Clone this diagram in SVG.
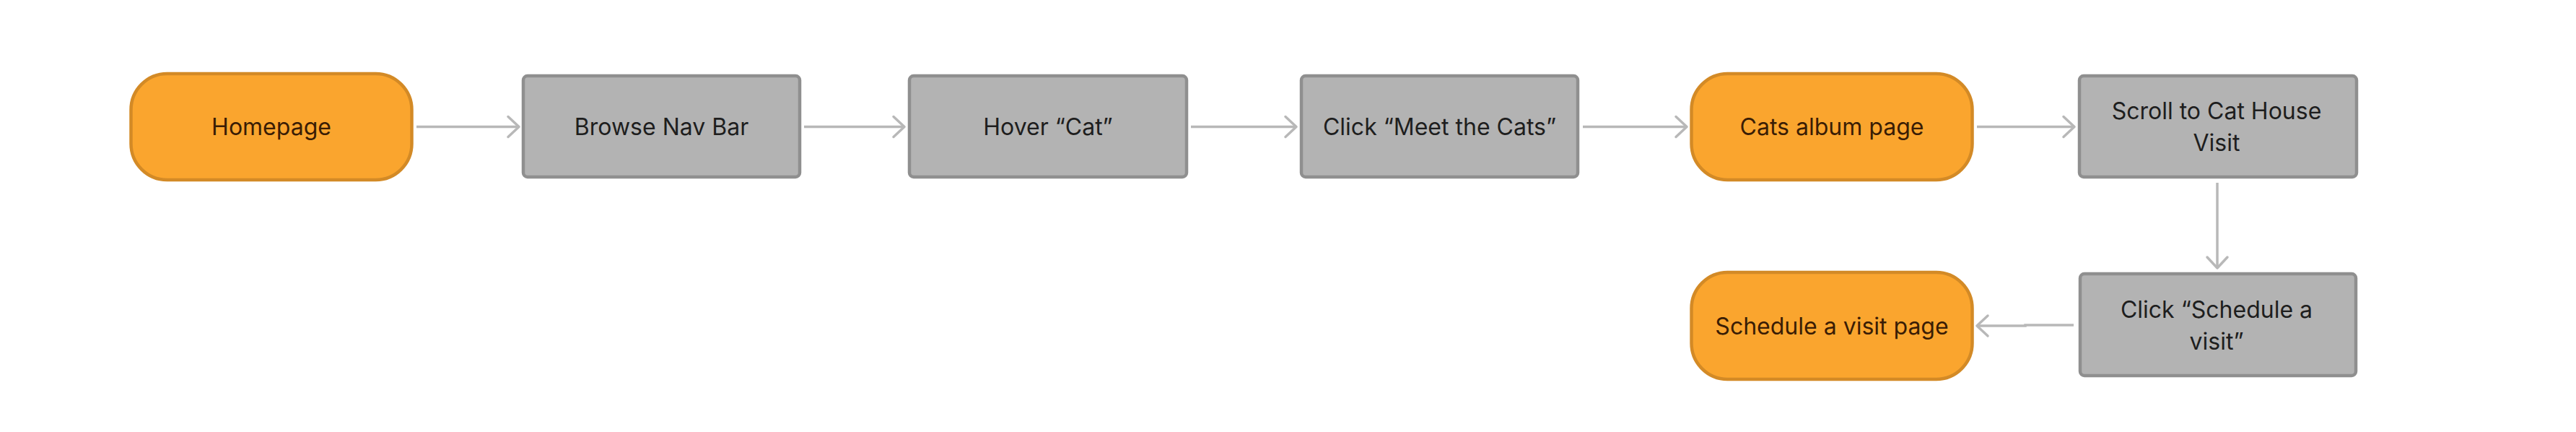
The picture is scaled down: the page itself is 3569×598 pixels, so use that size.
<svg xmlns="http://www.w3.org/2000/svg" width="3569" height="598" viewBox="0 0 3569 598">
<style>
  .page rect { fill: #FAA52E; stroke: #D38A26; stroke-width: 4.5; }
  .step rect { fill: #B3B3B3; stroke: #8F8F8F; stroke-width: 4.5; }
  text { font-family: Inter, "Liberation Sans", Arial, sans-serif; font-size: 32px; text-anchor: middle; dominant-baseline: central; }
  .page text { fill: #3A1D05; }
  .step text { fill: #1E1E1E; }
  .conn path { fill: none; stroke: #B8B8B8; stroke-width: 3.5; marker-end: url(#arr); }
</style>
<defs>
  <marker id="arr" markerUnits="userSpaceOnUse" markerWidth="40" markerHeight="40" viewBox="-20 -20 40 40" refX="0" refY="0" orient="auto">
    <path d="M-15,-14 L0,0 L-15,14" fill="none" stroke="#B8B8B8" stroke-width="3.5" stroke-linejoin="round" stroke-linecap="round"/>
  </marker>
</defs>
<rect width="3569" height="598" fill="#FFFFFF"/>
<g id="connectors" class="conn">
  <path d="M577,175.5 H719"/>
  <path d="M1114,175.5 H1253"/>
  <path d="M1650,175.5 H1796"/>
  <path d="M2193,175.5 H2337"/>
  <path d="M2739,175.5 H2874"/>
  <path d="M3072,253 V371"/>
  <path d="M2873,450 H2806 V451 H2739"/>
</g>
<g id="homepage" class="page">
  <rect x="181.5" y="102" width="389" height="147" rx="50"/>
  <text x="376" y="175.5">Homepage</text>
</g>
<g id="browse-nav-bar" class="step">
  <rect x="725" y="105" width="383" height="140" rx="6"/>
  <text x="916.5" y="175">Browse Nav Bar</text>
</g>
<g id="hover-cat" class="step">
  <rect x="1260" y="105" width="384" height="140" rx="6"/>
  <text x="1452" y="175">Hover “Cat”</text>
</g>
<g id="click-meet-the-cats" class="step">
  <rect x="1803" y="105" width="383" height="140" rx="6"/>
  <text x="1994.5" y="175">Click “Meet the Cats”</text>
</g>
<g id="cats-album-page" class="page">
  <rect x="2343.5" y="102" width="389" height="147" rx="50"/>
  <text x="2538" y="175.5">Cats album page</text>
</g>
<g id="scroll-to-cat-house-visit" class="step">
  <rect x="2881" y="105" width="384" height="140" rx="6"/>
  <text x="3071" y="153">Scroll to Cat House</text>
  <text x="3071" y="197">Visit</text>
</g>
<g id="click-schedule-a-visit" class="step">
  <rect x="2882" y="379" width="382" height="141" rx="6"/>
  <text x="3071" y="428">Click “Schedule a</text>
  <text x="3071" y="472">visit”</text>
</g>
<g id="schedule-a-visit-page" class="page">
  <rect x="2343.5" y="377" width="389" height="148" rx="50"/>
  <text x="2538" y="451">Schedule a visit page</text>
</g>
</svg>
